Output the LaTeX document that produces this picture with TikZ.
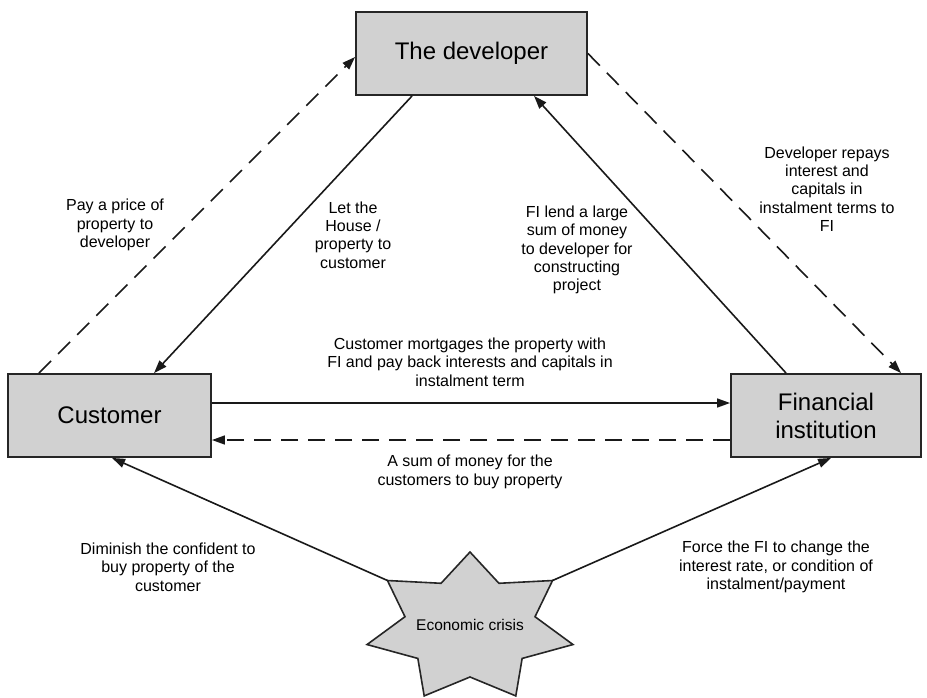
\documentclass[tikz,border=0pt]{standalone}
\usepackage{fontspec}
\setmainfont{Liberation Sans}
\usetikzlibrary{arrows.meta,calc}

\begin{document}
\begin{tikzpicture}[x=1pt,y=-1pt,
  party/.style={draw=black!85, line width=1.9pt, fill=black!18,
    minimum height=83pt, inner sep=0pt, align=center,
    font=\fontsize{24}{28}\selectfont},
  note/.style={align=center, inner sep=0pt,
    font=\fontsize{16}{18.4}\selectfont},
  flow/.style={line width=1.6pt, draw=black!90,
    -{Triangle[length=13pt,width=9pt]}},
  back/.style={flow, dash pattern=on 17pt off 10pt},
  burst/.style={draw=black!85, line width=1.6pt, fill=black!18, line join=miter},
]
\useasboundingbox (0,0) rectangle (927,697);

% the three parties
\node[party, minimum width=231pt] (dev)  at (471.5,53.5)  {The developer};
\node[party, minimum width=203pt] (cust) at (109.5,415.5) {Customer};
\node[party, minimum width=190pt] (fi)   at (826,415.5)   {Financial\\institution};

% the economic crisis burst (seven-pointed star)
\begin{scope}[shift={(470,627.7)}]
  \draw[burst] (270:105.6 and 75.7) -- (295.71:66.7 and 49.3)
    -- (321.43:105.6 and 75.7) -- (347.14:66.7 and 49.3)
    -- (12.86:105.6 and 75.7)  -- (38.57:66.7 and 49.3)
    -- (64.29:105.6 and 75.7)  -- (90:66.7 and 49.3)
    -- (115.71:105.6 and 75.7) -- (141.43:66.7 and 49.3)
    -- (167.14:105.6 and 75.7) -- (192.86:66.7 and 49.3)
    -- (218.57:105.6 and 75.7) -- (244.29:66.7 and 49.3) -- cycle;
  \coordinate (crisis-ul) at (218.57:105.6 and 75.7);
  \coordinate (crisis-ur) at (321.43:105.6 and 75.7);
  \node[inner sep=0pt, font=\fontsize{15.5}{18}\selectfont] (crisis) at (0,-3) {Economic crisis};
\end{scope}

% flows between the parties
\draw[flow] ([xshift=57pt]dev.south west) -- ([xshift=147pt]cust.north west);
\draw[back] ([xshift=32pt]cust.north west) -- ([yshift=-3.5pt]dev.west);
\draw[flow] ([xshift=56pt]fi.north west) -- ([xshift=179pt]dev.south west);
\draw[back] (dev.east) -- ([xshift=171pt]fi.north west);
\draw[flow] ([yshift=12.5pt]cust.east) -- ([yshift=12.5pt]fi.west);
\draw[back] ([yshift=-24.5pt]fi.west) -- ([yshift=-24.5pt]cust.east);
\draw[flow] (crisis-ul) -- ([xshift=105pt]cust.south west);
\draw[flow] (crisis-ur) -- ([xshift=101pt]fi.south west);

% labels
\node[note] (l-pay)   at (115,225) {Pay a price of\\property to\\developer};
\node[note] (l-let)   at (353,235) {Let the\\House /\\property to\\customer};
\node[note] (l-lend)  at (577,250) {FI lend a large\\sum of money\\to developer for\\constructing\\project};
\node[note] (l-repay) at (827,189) {Developer repays\\interest and\\capitals in\\instalment terms to\\FI};
\node[note] (l-mort)  at (470,362) {Customer mortgages the property with\\FI and pay back interests and capitals in\\instalment term};
\node[note] (l-sum)   at (470,472) {A sum of money for the\\customers to buy property};
\node[note] (l-dim)   at (168,567) {Diminish the confident to\\buy property of the\\customer};
\node[note] (l-force) at (776,567) {Force the FI to change the\\interest rate, or condition of\\instalment/payment};
\end{tikzpicture}
\end{document}
